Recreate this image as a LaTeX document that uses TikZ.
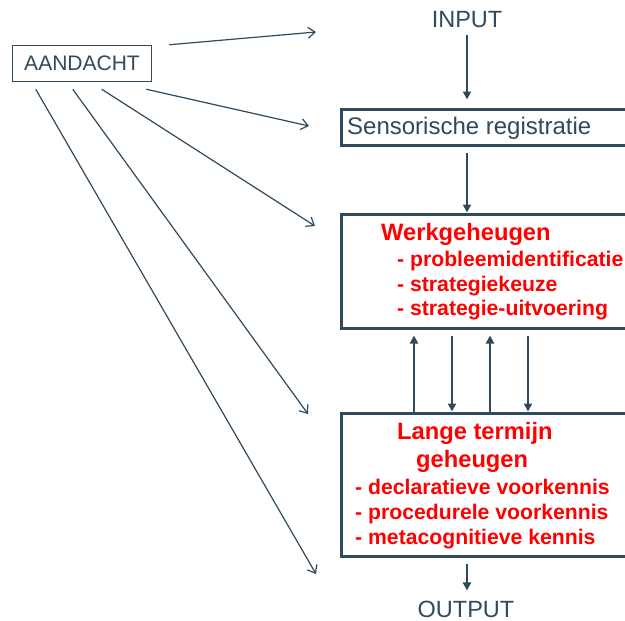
\documentclass[tikz,border=0pt]{standalone}
\usepackage{fontspec}
\setmainfont{Liberation Sans}
\usetikzlibrary{arrows.meta,calc}
\definecolor{slate}{RGB}{47,74,92}
\definecolor{rood}{RGB}{255,0,0}
\newcommand{\fsz}[1]{\fontsize{#1}{#1}\selectfont}
\begin{document}
\begin{tikzpicture}[x=1pt,y=-1pt,
  bigbox/.style={draw=slate,line width=3pt,inner sep=0pt,anchor=north west,minimum width=300pt},
  plain/.style={text=slate,font=\fsz{23.5},inner sep=0pt},
  redhead/.style={text=rood,font=\bfseries\fsz{23.7},inner sep=0pt,anchor=base west},
  reditem/.style={text=rood,font=\bfseries\fsz{21.2},inner sep=0pt,anchor=base west},
  flow/.style={draw=slate,line width=2.7pt,-{Triangle[length=8pt,width=8pt]}},
  attn/.style={draw=slate,line width=1.2pt,-{Straight Barb[length=7pt,width=11pt,line width=1.2pt]}}]
\useasboundingbox (0,0) rectangle (625,621);
\clip (0,0) rectangle (625,621);
\fill[white] (0,0) rectangle (625,621);
% boxes
\node[draw=slate,line width=1.5pt,minimum width=139pt,minimum height=36pt,inner sep=0pt,text=slate,font=\fsz{21}] (aand) at (82,63.5) {AANDACHT};
\node[bigbox,minimum height=36pt] (sens) at (339.5,107.5) {};
\node[bigbox,minimum height=114pt] (wg) at (339.5,212.5) {};
\node[bigbox,minimum height=143pt] (ltm) at (339.5,411.5) {};
% texts
\node[plain] (input) at (467,20) {INPUT};
\node[plain] (output) at (466,609) {OUTPUT};
\node[plain,font=\fsz{24},anchor=base west] (senst) at (347,134) {Sensorische registratie};
\node[redhead] (wgt) at (381,240) {Werkgeheugen};
\node[reditem] (wg1) at (397,266) {- probleemidentificatie};
\node[reditem] (wg2) at (397,291) {- strategiekeuze};
\node[reditem] (wg3) at (397,315) {- strategie-uitvoering};
\node[redhead] (ltmt) at (397,439) {Lange termijn};
\node[redhead] (ltmg) at (416,467) {geheugen};
\node[reditem] (ltm1) at (355,494) {- declaratieve voorkennis};
\node[reditem] (ltm2) at (355,519) {- procedurele voorkennis};
\node[reditem] (ltm3) at (355,544) {- metacognitieve kennis};
% flow arrows
\coordinate (a1) at (467,35);
\draw[flow] (a1) -- ($(a1 |- sens.north)+(0,-8)$);
\draw[flow] ($(a1 |- sens.south)+(0,6)$) -- (a1 |- wg.north);
\coordinate (u1) at (414,0);
\coordinate (d1) at (452,0);
\coordinate (u2) at (490,0);
\coordinate (d2) at (528,0);
\draw[flow] (u1 |- ltm.north) -- ($(u1 |- wg.south)+(0,6)$);
\draw[flow] ($(d1 |- wg.south)+(0,6)$) -- (d1 |- ltm.north);
\draw[flow] (u2 |- ltm.north) -- ($(u2 |- wg.south)+(0,6)$);
\draw[flow] ($(d2 |- wg.south)+(0,6)$) -- (d2 |- ltm.north);
\draw[flow] ($(a1 |- ltm.south)+(0,6)$) -- ($(a1 |- output.north)+(0,-10)$);
% attention arrows
\coordinate (t1) at (316,32);
\coordinate (t2) at (309,126);
\coordinate (t3) at (315,226);
\coordinate (t4) at (308,414);
\coordinate (t5) at (316,574);
\draw[attn] ($(aand.north east)+(17,0)$) -- (t1);
\draw[attn] ($(aand.south east)+(-6,7)$) -- (t2);
\draw[attn] ($(aand.south west)+(90,7)$) -- (t3);
\draw[attn] ($(aand.south west)+(61,7)$) -- (t4);
\draw[attn] ($(aand.south west)+(24,7)$) -- (t5);
\end{tikzpicture}
\end{document}
